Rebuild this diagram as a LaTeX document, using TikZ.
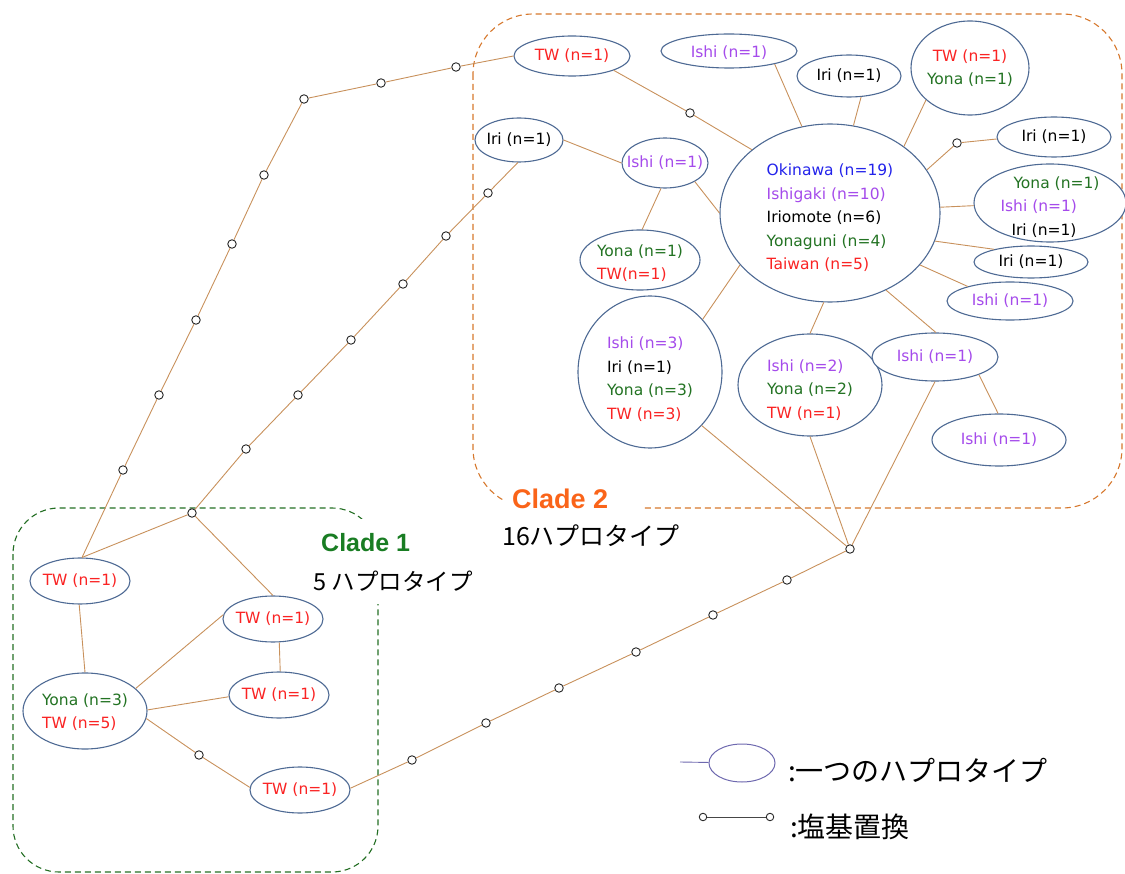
\documentclass[tikz,border=0pt]{standalone}
\usepackage{fontspec}
\setmainfont{DejaVu Sans}
\newfontfamily\jpfont{Noto Sans CJK JP}
\newfontfamily\cladefont{Liberation Sans}
\usetikzlibrary{shapes.geometric}

\definecolor{cred}{RGB}{250,35,35}
\definecolor{cpur}{RGB}{165,75,235}
\definecolor{cgrn}{RGB}{35,115,35}
\definecolor{cblu}{RGB}{35,35,235}
\definecolor{outl}{RGB}{78,106,148}
\definecolor{connc}{RGB}{200,145,92}
\definecolor{mutc}{RGB}{40,40,40}
\definecolor{ctwodash}{RGB}{214,120,45}
\definecolor{ctwolab}{RGB}{250,100,25}
\definecolor{conedash}{RGB}{35,110,35}
\definecolor{conelab}{RGB}{25,125,35}
\definecolor{legc}{RGB}{110,105,175}
\definecolor{leglinec}{RGB}{70,70,70}

\NewDocumentCommand\hapt{O{l} m O{0pt}}{\raisebox{\dimexpr-0.25em-#3\relax}[0pt][0pt]{\makebox[0pt]{\begin{tabular}{@{}#1@{}}#2\end{tabular}}}}

\begin{document}
\begin{tikzpicture}[x=1pt,y=-1pt,
  hap/.style={ellipse, draw=outl, line width=1.1pt, fill=white, inner sep=0pt,
    font=\fontsize{15.5}{23.5}\selectfont},
  hs/.style 2 args={minimum width=#1pt, minimum height=#2pt},
  conn/.style={draw=connc, line width=0.9pt},
  mut/.style={circle, draw=mutc, fill=white, line width=0.9pt, minimum size=8.5pt, inner sep=0pt},
  ctwo/.style={draw=ctwodash, line width=1.1pt, dash pattern=on 6pt off 4pt, rounded corners=60pt},
  cone/.style={draw=conedash, line width=1.1pt, dash pattern=on 6pt off 4pt, rounded corners=46pt},
  cladelab/.style={anchor=west, inner sep=0pt, font=\cladefont\bfseries\fontsize{25}{28}\selectfont},
  jplab/.style={anchor=west, inner sep=0pt, font=\jpfont\fontsize{23.5}{26}\selectfont},
  legtext/.style={anchor=west, inner sep=0pt, font=\jpfont\fontsize{28}{30}\selectfont},
]
\useasboundingbox (0,0) rectangle (1125,874);

% clade boxes
\draw[ctwo] (473,14) rectangle (1122,508);
\draw[cone] (13,508) rectangle (378,872);

% clade labels
\fill[white] (312,519) rectangle (437,604);
\node[cladelab, text=conelab] (c1lab) at (321,543) {Clade 1};
\node[jplab] (c1sub) at (313,581) {5 ハプロタイプ};
\fill[white] (505,481) rectangle (641,517);
\node[cladelab, text=ctwolab, font=\cladefont\bfseries\fontsize{27}{30}\selectfont] (c2lab) at (512,499) {Clade 2};
\node[jplab, font=\jpfont\fontsize{25}{28}\selectfont] (c2sub) at (502,536) {16ハプロタイプ};

% ---- Clade 2 haplotypes
\node[hap, hs={116}{40}] (twA) at (572,56) {\hapt{\color{cred}TW (n=1)}};
\node[hap, hs={136}{34}] (ishiT) at (729,51) {\hapt{\color{cpur}Ishi (n=1)}[1.5pt]};
\node[hap, hs={104}{42}] (iriT) at (849,76) {\hapt{Iri (n=1)}};
\node[hap, hs={118}{94}] (twyT) at (970,68) {\hapt[c]{\color{cred}TW (n=1)\\\color{cgrn}Yona (n=1)}};
\node[hap, hs={220}{178}] (big) at (830,213) {\hapt{\color{cblu}Okinawa (n=19)\\\color{cpur}Ishigaki (n=10)\\Iriomote (n=6)\\\color{cgrn}Yonaguni (n=4)\\\color{cred}Taiwan (n=5)}[5pt]};
\node[hap, hs={88}{44}] (iriL) at (519,140) {\hapt{Iri (n=1)}};
\node[hap, hs={86}{50}] (ishiM) at (665,163) {\hapt{\color{cpur}Ishi (n=1)}};
\node[hap, hs={120}{60}] (ytM) at (640,260) {\hapt{\color{cgrn}Yona (n=1)\\\color{cred}TW(n=1)}[3pt]};
\node[hap, hs={114}{40}] (iriR1) at (1054,137) {\hapt{Iri (n=1)}};
\node[hap, hs={152}{78}] (yiiR) at (1050,203) {\hapt{\hspace*{13pt}\color{cgrn}Yona (n=1)\\\color{cpur}Ishi (n=1)\\\hspace*{11pt}Iri (n=1)}[4pt]};
\node[hap, hs={114}{32}] (iriR2) at (1031,262) {\hapt{Iri (n=1)}};
\node[hap, hs={126}{38}] (ishiR) at (1010,301) {\hapt{\color{cpur}Ishi (n=1)}};
\node[hap, hs={144}{152}] (iiytB) at (650,372) {\hapt{\color{cpur}Ishi (n=3)\\Iri (n=1)\\\color{cgrn}Yona (n=3)\\\color{cred}TW (n=3)}[7pt]};
\node[hap, hs={144}{102}] (iytB) at (810,385) {\hapt{\color{cpur}Ishi (n=2)\\\color{cgrn}Yona (n=2)\\\color{cred}TW (n=1)}[5pt]};
\node[hap, hs={126}{48}] (ishiB1) at (935,357) {\hapt{\color{cpur}Ishi (n=1)}};
\node[hap, hs={134}{52}] (ishiB2) at (999,440) {\hapt{\color{cpur}Ishi (n=1)}};

% ---- Clade 1 haplotypes
\node[hap, hs={100}{46}] (tw1) at (80,581) {\hapt{\color{cred}TW (n=1)}};
\node[hap, hs={124}{76}] (yt1) at (85,711) {\hapt{\color{cgrn}Yona (n=3)\\\color{cred}TW (n=5)}[1pt]};
\node[hap, hs={100}{46}] (tw2) at (273,619) {\hapt{\color{cred}TW (n=1)}};
\node[hap, hs={100}{46}] (tw3) at (279,695) {\hapt{\color{cred}TW (n=1)}};
\node[hap, hs={100}{46}] (tw4) at (300,790) {\hapt{\color{cred}TW (n=1)}};

% ---- mutation dots
\node[mut] (m1) at (690,113) {};
\node[mut] (m2) at (957,143) {};
\node[mut] (a1) at (456,67) {};
\node[mut] (a2) at (381,83) {};
\node[mut] (a3) at (304,99) {};
\node[mut] (a4) at (264,175) {};
\node[mut] (a5) at (232,244) {};
\node[mut] (a6) at (196,320) {};
\node[mut] (a7) at (159,395) {};
\node[mut] (a8) at (123,470) {};
\node[mut] (b1) at (488,193) {};
\node[mut] (b2) at (446,236) {};
\node[mut] (b3) at (403,284) {};
\node[mut] (b4) at (351,340) {};
\node[mut] (b5) at (298,395) {};
\node[mut] (b6) at (246,449) {};
\node[mut] (j1) at (192,513) {};
\node[mut] (c0) at (199,755) {};
\node[mut] (c1) at (412,760) {};
\node[mut] (c2) at (486,723) {};
\node[mut] (c3) at (559,688) {};
\node[mut] (c4) at (636,652) {};
\node[mut] (c5) at (713,615) {};
\node[mut] (c6) at (787,580) {};
\node[mut] (j2) at (850,549) {};

% ---- connectors (clade 2)
\draw[conn] (twA.-19) -- (m1) -- (big.141);
\draw[conn] (ishiT.-16) -- (big.108);
\draw[conn] (iriT.-60) -- (big.75);
\draw[conn] (twyT.216) -- (big.42.5);
\draw[conn] (big.24) -- (m2) -- (iriR1.182);
\draw[conn] (big.3.6) -- (yiiR.182);
\draw[conn] (big.-15.5) -- (iriR2.161.6);
\draw[conn] (big.-30.7) -- (ishiR.161.6);
\draw[conn] (big.180) -- (ishiM.-32);
\draw[conn] (big.210.7) -- (iiytB.45.5);
\draw[conn] (big.266.7) -- (iytB.90);
\draw[conn] (big.-54.2) -- (ishiB1.88);
\draw[conn] (ishiB1.-22) -- (ishiB2.92);
\draw[conn] (iriL.0) -- (ishiM.180);
\draw[conn] (ishiM.261) -- (ytM.86);
\draw[conn] (iiytB.-46.6) -- (j2);
\draw[conn] (iytB.270) -- (j2);
\draw[conn] (ishiB1.270) -- (j2);

% ---- long branches
\draw[conn] (twA.180) -- (a1) -- (a2) -- (a3) -- (a4) -- (a5) -- (a6) -- (a7) -- (a8) -- (tw1.85);
\draw[conn] (iriL.267) -- (b1) -- (b2) -- (b3) -- (b4) -- (b5) -- (b6) -- (j1);
\draw[conn] (j1) -- (tw1.85);
\draw[conn] (j1) -- (tw2.90);
\draw[conn] (tw4.2.2) -- (c1) -- (c2) -- (c3) -- (c4) -- (c5) -- (c6) -- (j2);

% ---- connectors (clade 1)
\draw[conn] (tw1.268) -- (yt1.90);
\draw[conn] (yt1.24.8) -- (tw2.175.4);
\draw[conn] (yt1.1) -- (tw3.182);
\draw[conn] (tw2.-75) -- (tw3.87.5);
\draw[conn] (yt1.-7.2) -- (c0) -- (tw4.177.7);

% ---- legend
\coordinate (legL) at (680,762);
\node[ellipse, draw=legc, line width=1pt, hs={66}{38}, inner sep=0pt] (legE) at (742,763) {};
\draw[draw=legc, line width=0.9pt] (legL) -- (legE);
\node[legtext] (leg1t) at (788,770) {:一つのハプロタイプ};
\node[mut, minimum size=7.5pt] (lm1) at (703,817) {};
\node[mut, minimum size=7.5pt] (lm2) at (770,817) {};
\draw[draw=leglinec, line width=1pt] (lm1) -- (lm2);
\node[legtext] (leg2t) at (790,827) {:塩基置換};
\end{tikzpicture}
\end{document}
